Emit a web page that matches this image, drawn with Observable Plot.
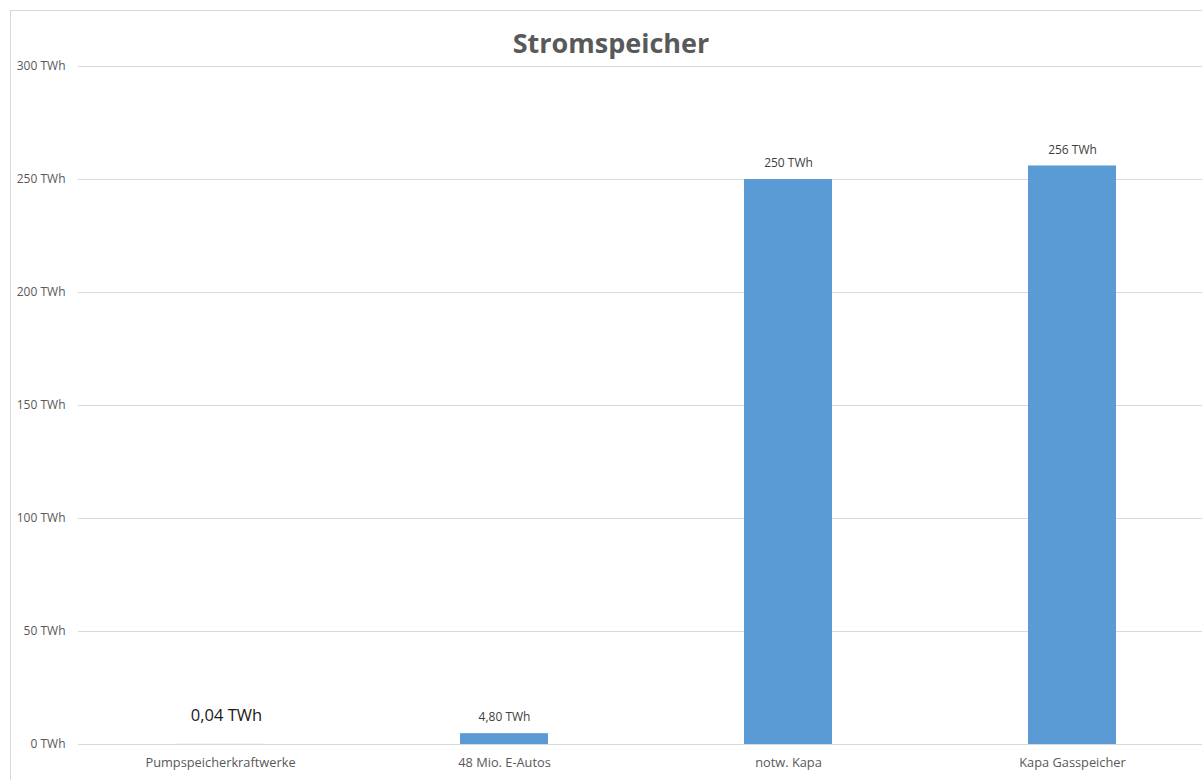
<!DOCTYPE html>
<html>
<head>
<meta charset="utf-8">
<script src="https://cdn.jsdelivr.net/npm/d3@7"></script>
<script src="https://cdn.jsdelivr.net/npm/@observablehq/plot@0.6"></script>
<style>
  html, body { margin: 0; padding: 0; background: #fff; overflow: hidden; }
  body { width: 1202px; height: 780px; position: relative; font-family: "Open Sans", sans-serif; }
  #frame {
    position: absolute; left: 10px; top: 10px; width: 1300px; height: 900px;
    border-top: 1px solid #d9d9d9; border-left: 1px solid #d9d9d9;
  }
  #title {
    position: absolute; left: 10px; top: 24px; width: 1202px; text-align: center;
    font-family: "Open Sans", sans-serif; font-weight: 700; font-size: 27px; color: #595959;
    line-height: 38px;
  }
  #chart { position: absolute; left: 0; top: 56px; }
</style>
</head>
<body>
<div id="frame"></div>
<div id="title">Stromspeicher</div>
<div id="chart"></div>
<script>
// Storage capacities in TWh
const categories = ["Pumpspeicherkraftwerke", "48 Mio. E-Autos", "notw. Kapa", "Kapa Gasspeicher"];
const values = [0.04, 4.8, 250, 256];
const valueLabels = ["0,04 TWh", "4,80 TWh", "250 TWh", "256 TWh"];
const yTicks = [0, 50, 100, 150, 200, 250, 300];

const data = categories.map((c, i) => ({category: c, value: values[i], label: valueLabels[i]}));
const small = data.filter(d => d.value < 1);
const rest = data.filter(d => d.value >= 1);

const chart = Plot.plot({
  width: 1202,
  height: 724,
  marginLeft: 78,
  marginRight: 0,
  marginTop: 10,
  marginBottom: 36,
  style: {fontFamily: "Open Sans, sans-serif", fontSize: "12px", color: "#595959", overflow: "visible"},
  x: {domain: categories, range: [78, 1215], paddingInner: 0.69, paddingOuter: 0.345, label: null},
  y: {domain: [0, 300], label: null},
  marks: [
    Plot.gridY(yTicks, {stroke: "#d9d9d9", strokeOpacity: 1}),
    Plot.axisY(yTicks, {tickSize: 0, tickPadding: 13, tickFormat: d => `${d} TWh`, fontSize: 12, fill: "#595959"}),
    Plot.axisX({tickSize: 0, tickPadding: 13, fontSize: 12.8, fill: "#595959"}),
    Plot.barY(data, {x: "category", y: "value", fill: "#5b9bd5"}),
    Plot.text(rest, {x: "category", y: "value", text: "label", dy: -16, fontSize: 12, fill: "#404040"}),
    Plot.text(small, {x: "category", y: "value", text: "label", dy: -29, dx: 6, fontSize: 16.5, fill: "#1a1a1a"})
  ]
});
document.getElementById("chart").append(chart);
</script>
</body>
</html>
